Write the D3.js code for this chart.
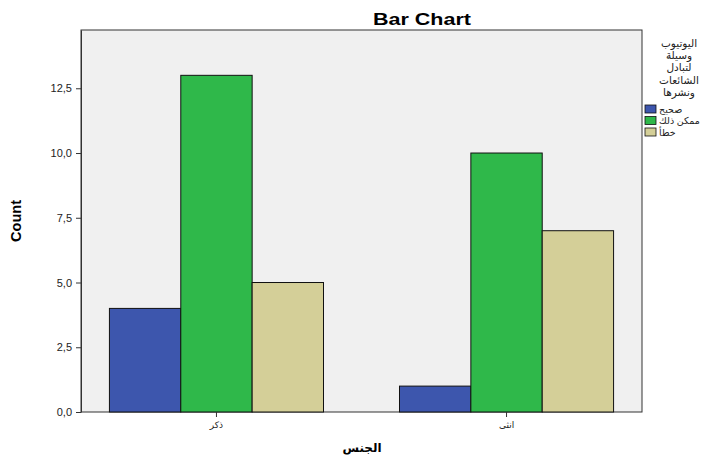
<!DOCTYPE html>
<html>
<head>
<meta charset="utf-8">
<script src="https://cdn.jsdelivr.net/npm/d3@7"></script>
<style>
  body { margin: 0; background: #fff; }
  text { font-family: "Liberation Sans", Arial, "DejaVu Sans", sans-serif; }
</style>
</head>
<body>
<div id="chart"></div>
<script>
// data
const categories = ['ذكر', 'انثى'];
const seriesNames = ['صحيح', 'ممكن ذلك', 'خطأ'];
const seriesColors = ['#3d56ad', '#2fb84a', '#d4cf98'];
const values = [
    [4, 13, 5],   // ذكر
    [1, 10, 7]    // انثى
];
const yTicks = [0, 2.5, 5, 7.5, 10, 12.5];
const legendTitle = ['اليوتيوب', 'وسيلة', 'لتبادل', 'الشائعات', 'ونشرها'];

const W = 705, H = 457;
const plot = {left: 81, top: 30, right: 642, bottom: 412};

const svg = d3.select('#chart')
    .append('svg')
    .attr('width', W)
    .attr('height', H);

svg.append('rect')
    .attr('x', plot.left)
    .attr('y', plot.top)
    .attr('width', plot.right - plot.left)
    .attr('height', plot.bottom - plot.top)
    .attr('fill', '#f0f0f0')
    .attr('stroke', '#333')
    .attr('stroke-width', 1);

const xScale = d3.scaleBand()
    .domain(categories)
    .range([plot.left, plot.right])
    .paddingInner(0.262)
    .paddingOuter(0.098);

const xSub = d3.scaleBand()
    .domain(seriesNames)
    .range([0, xScale.bandwidth()]);

const yScale = d3.scaleLinear()
    .domain([0, 14.75])
    .range([plot.bottom, plot.top]);

const fmt = v => d3.format('.1f')(v).replace('.', ',');

// bars
const groups = svg.selectAll('.grp')
    .data(categories)
    .enter()
    .append('g')
        .attr('transform', c => `translate(${xScale(c)},0)`);

groups.selectAll('rect')
    .data((c, i) => values[i].map((v, j) => ({name: seriesNames[j], value: v, color: seriesColors[j]})))
    .enter()
    .append('rect')
        .attr('x', d => xSub(d.name))
        .attr('y', d => yScale(d.value))
        .attr('width', xSub.bandwidth())
        .attr('height', d => yScale(0) - yScale(d.value))
        .attr('fill', d => d.color)
        .attr('stroke', '#111')
        .attr('stroke-width', 1);

// axes
const yAxis = svg.append('g')
    .attr('transform', `translate(${plot.left},0)`)
    .call(d3.axisLeft(yScale).tickValues(yTicks).tickFormat(fmt).tickSize(5).tickSizeOuter(0));
yAxis.select('.domain').attr('stroke', '#333');
yAxis.selectAll('line').attr('stroke', '#333');
yAxis.selectAll('text').style('font-size', '11px').attr('fill', '#222').attr('dx', '-1');

const xAxis = svg.append('g')
    .attr('transform', `translate(0,${plot.bottom})`)
    .call(d3.axisBottom(xScale).tickSize(5).tickSizeOuter(0));
xAxis.select('.domain').remove();
xAxis.selectAll('line').attr('stroke', '#333');
xAxis.selectAll('text').style('font-size', '9px').attr('fill', '#222').attr('dy', '0.9em');

// titles
svg.append('text')
    .attr('x', 422).attr('y', 25)
    .attr('text-anchor', 'middle')
    .style('font-size', '17px').style('font-weight', 'bold')
    .attr('textLength', 98).attr('lengthAdjust', 'spacingAndGlyphs')
    .text('Bar Chart');

svg.append('text')
    .attr('transform', 'translate(21,221) rotate(-90)')
    .attr('text-anchor', 'middle')
    .style('font-size', '15px').style('font-weight', 'bold')
    .attr('textLength', 42).attr('lengthAdjust', 'spacingAndGlyphs')
    .text('Count');

svg.append('text')
    .attr('x', 362).attr('y', 452)
    .attr('text-anchor', 'middle')
    .style('font-size', '12px').style('font-weight', 'bold')
    .text('الجنس');

// legend
const legend = svg.append('g');
legend.selectAll('.lt')
    .data(legendTitle)
    .enter()
    .append('text')
        .attr('x', 679)
        .attr('y', (d, i) => 47 + i * 12.2)
        .attr('text-anchor', 'middle')
        .style('font-size', '10.5px')
        .attr('fill', '#222')
        .text(d => d);

const items = legend.selectAll('.li')
    .data(seriesNames)
    .enter()
    .append('g')
        .attr('transform', (d, i) => `translate(645,${105 + i * 11.5})`);
items.append('rect')
    .attr('width', 11).attr('height', 8)
    .attr('fill', (d, i) => seriesColors[i])
    .attr('stroke', '#111').attr('stroke-width', 0.8);
items.append('text')
    .attr('x', 14).attr('y', 7.5)
    .style('font-size', '9.5px')
    .attr('fill', '#222')
    .attr('direction', 'ltr')
    .text(d => d);
</script>
</body>
</html>
